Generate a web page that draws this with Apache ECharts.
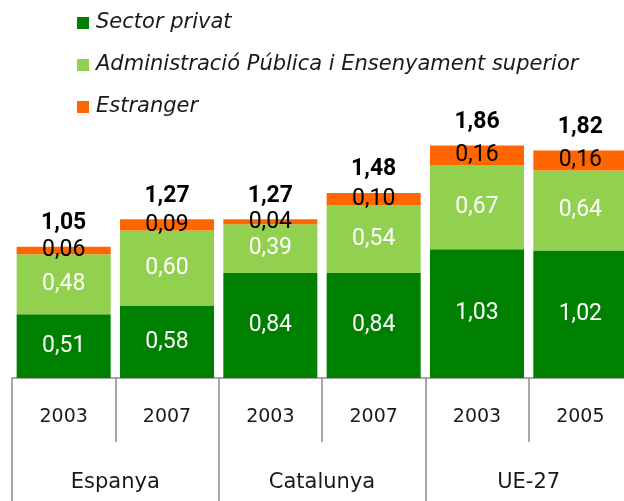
<!DOCTYPE html>
<html><head><meta charset="utf-8">
<script src="https://cdn.jsdelivr.net/npm/echarts@6/dist/echarts.min.js"></script>
<style>html,body{margin:0;padding:0;background:#fff}#c{width:624px;height:501px}</style>
</head><body><div id="c"></div>
<script>
const years = ['2003','2007','2003','2007','2003','2005'];
const groups = ['Espanya','Catalunya','UE-27'];
const seriesNames = ['Sector privat','Administració Pública i Ensenyament superior','Estranger'];
const privat = [0.51,0.58,0.84,0.84,1.03,1.02];
const admin = [0.48,0.60,0.39,0.54,0.67,0.64];
const estranger = [0.06,0.09,0.04,0.10,0.16,0.16];
const totals = [1.05,1.27,1.27,1.48,1.86,1.82];

const fmt = v => v.toFixed(2).replace('.', ',');
const segLabel = (color) => ({
  show: true, position: 'inside', color: color, fontFamily: 'Roboto', fontSize: 23,
  formatter: p => fmt(p.value)
});
const chart = echarts.init(document.getElementById('c'), null, {renderer: 'canvas'});
const gray = '#8c8c8c';
chart.setOption({
  animation: false,
  legend: {
    orient: 'vertical', left: 72, top: 7,
    data: seriesNames,
    itemWidth: 12, itemHeight: 12, itemGap: 20, icon: 'rect',
    textStyle: {fontFamily: 'DejaVu Sans', fontStyle: 'italic', fontSize: 21, color: '#1a1a1a', lineHeight: 22, padding: [0,0,0,2]}
  },
  grid: {left: 12, width: 620, top: 128, bottom: 123, outerBoundsMode: 'none', containLabel: false},
  xAxis: [{
    type: 'category', data: years, position: 'bottom',
    axisLine: {show: true, lineStyle: {color: gray, width: 1.5}},
    axisTick: {show: true, interval: 0, length: 64, lineStyle: {color: gray, width: 1.5}},
    axisLabel: {interval: 0, margin: 30, fontFamily: 'DejaVu Sans', fontSize: 19, color: '#1a1a1a'}
  }, {
    type: 'category', data: groups, position: 'bottom', offset: 0,
    axisLine: {show: false},
    axisTick: {show: true, interval: 0, length: 125, lineStyle: {color: gray, width: 1.5}},
    axisLabel: {interval: 0, margin: 94, fontFamily: 'DejaVu Sans', fontSize: 21, color: '#1a1a1a'}
  }],
  yAxis: {type: 'value', min: 0, max: 2, show: false, splitLine: {show: false}},
  series: [
    {name: seriesNames[0], type: 'bar', stack: 's', data: privat, barCategoryGap: '9%',
     itemStyle: {color: '#008000'}, label: segLabel('#ffffff')},
    {name: seriesNames[1], type: 'bar', stack: 's', data: admin,
     itemStyle: {color: '#92D050'}, label: segLabel('#ffffff')},
    {name: seriesNames[2], type: 'bar', stack: 's', data: estranger,
     itemStyle: {color: '#FF6600'}, label: segLabel('#000000')},
    {name: 'Total', type: 'bar', stack: 's', data: totals.map(() => 0),
     itemStyle: {color: 'transparent'},
     label: {show: true, position: 'top', distance: 12, fontFamily: 'Roboto', fontWeight: 'bold', fontSize: 23, color: '#000',
       formatter: p => fmt(totals[p.dataIndex])}}
  ]
});
</script></body></html>
